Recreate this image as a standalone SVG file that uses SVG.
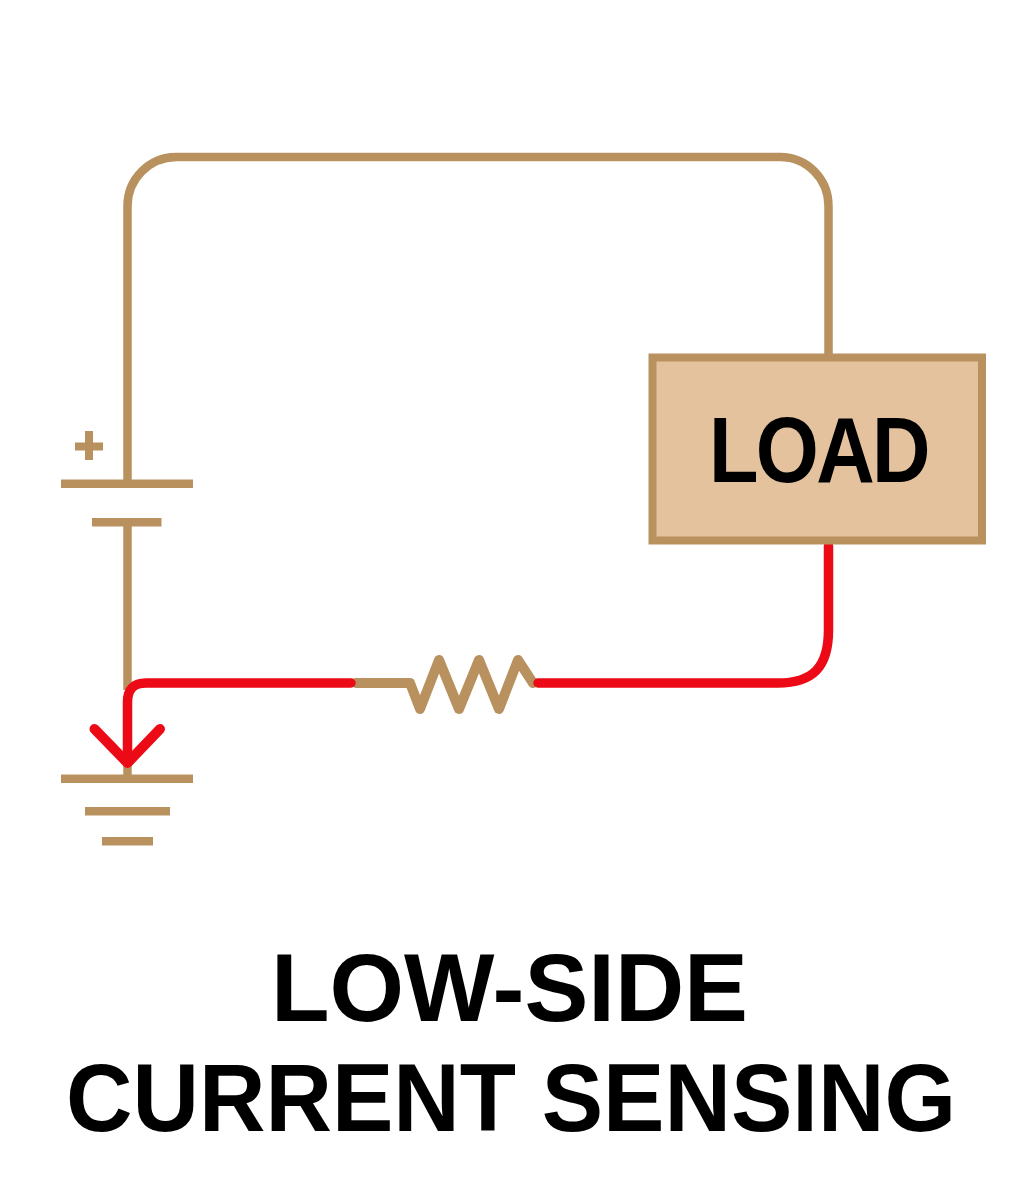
<svg xmlns="http://www.w3.org/2000/svg" width="1024" height="1195" viewBox="0 0 1024 1195">
<style>
.w{fill:none;stroke:#b8915f;stroke-width:8.500}
.r{fill:none;stroke:#ec0a17;stroke-width:9.500;stroke-linecap:round;stroke-linejoin:round}
.b{fill:#b8915f}
text{font-family:"Liberation Sans",Arial,sans-serif;font-weight:700;fill:#000}
</style>
<rect width="1024" height="1195" fill="#fff"/>
<g id="resistor">
<path class="w" style="stroke-width:10;stroke-linejoin:round;stroke-linecap:round" d="M356 683H410L420 709L439 660L459 709L479 660L499 709L518 660L533 683"/>
</g>
<g id="connectors">
<path class="w" d="M127.500 480V206A49 49 0 0 1 176 157H780A48.500 49 0 0 1 828.500 206V354"/>
<path class="w" d="M127.500 522V690"/>
<path class="w" d="M127.500 765V776"/>
<path class="r" d="M828.500 546V630C828.500 668 812 683 778 683H538"/>
<path class="r" d="M351 683H146Q127.500 683 127.500 702V762"/>
<path class="r" style="stroke-width:10" d="M94.500 729L127.500 763L160 729"/>
</g>
<g id="battery">
<rect class="b" x="61" y="479.500" width="132" height="8.500"/>
<rect class="b" x="92" y="518" width="69.500" height="8.500"/>
<rect class="b" x="75" y="442.500" width="28" height="8"/>
<rect class="b" x="85" y="431" width="8" height="29"/>
</g>
<g id="load">
<rect x="652.500" y="357.500" width="329.500" height="183" fill="#e4c29e" stroke="#b8915f" stroke-width="8"/>
<text x="709" y="482" font-size="93" letter-spacing="-3" textLength="219" lengthAdjust="spacingAndGlyphs">LOAD</text>
</g>
<g id="ground">
<rect class="b" x="61" y="774.500" width="132" height="8.500"/>
<rect class="b" x="85" y="807" width="85" height="8.500"/>
<rect class="b" x="102" y="837" width="51" height="8.500"/>
</g>
<g id="title">
<text x="271" y="1021" font-size="96" textLength="477" lengthAdjust="spacingAndGlyphs">LOW-SIDE</text>
<text x="66" y="1131" font-size="96" textLength="890" lengthAdjust="spacingAndGlyphs">CURRENT SENSING</text>
</g>
</svg>
